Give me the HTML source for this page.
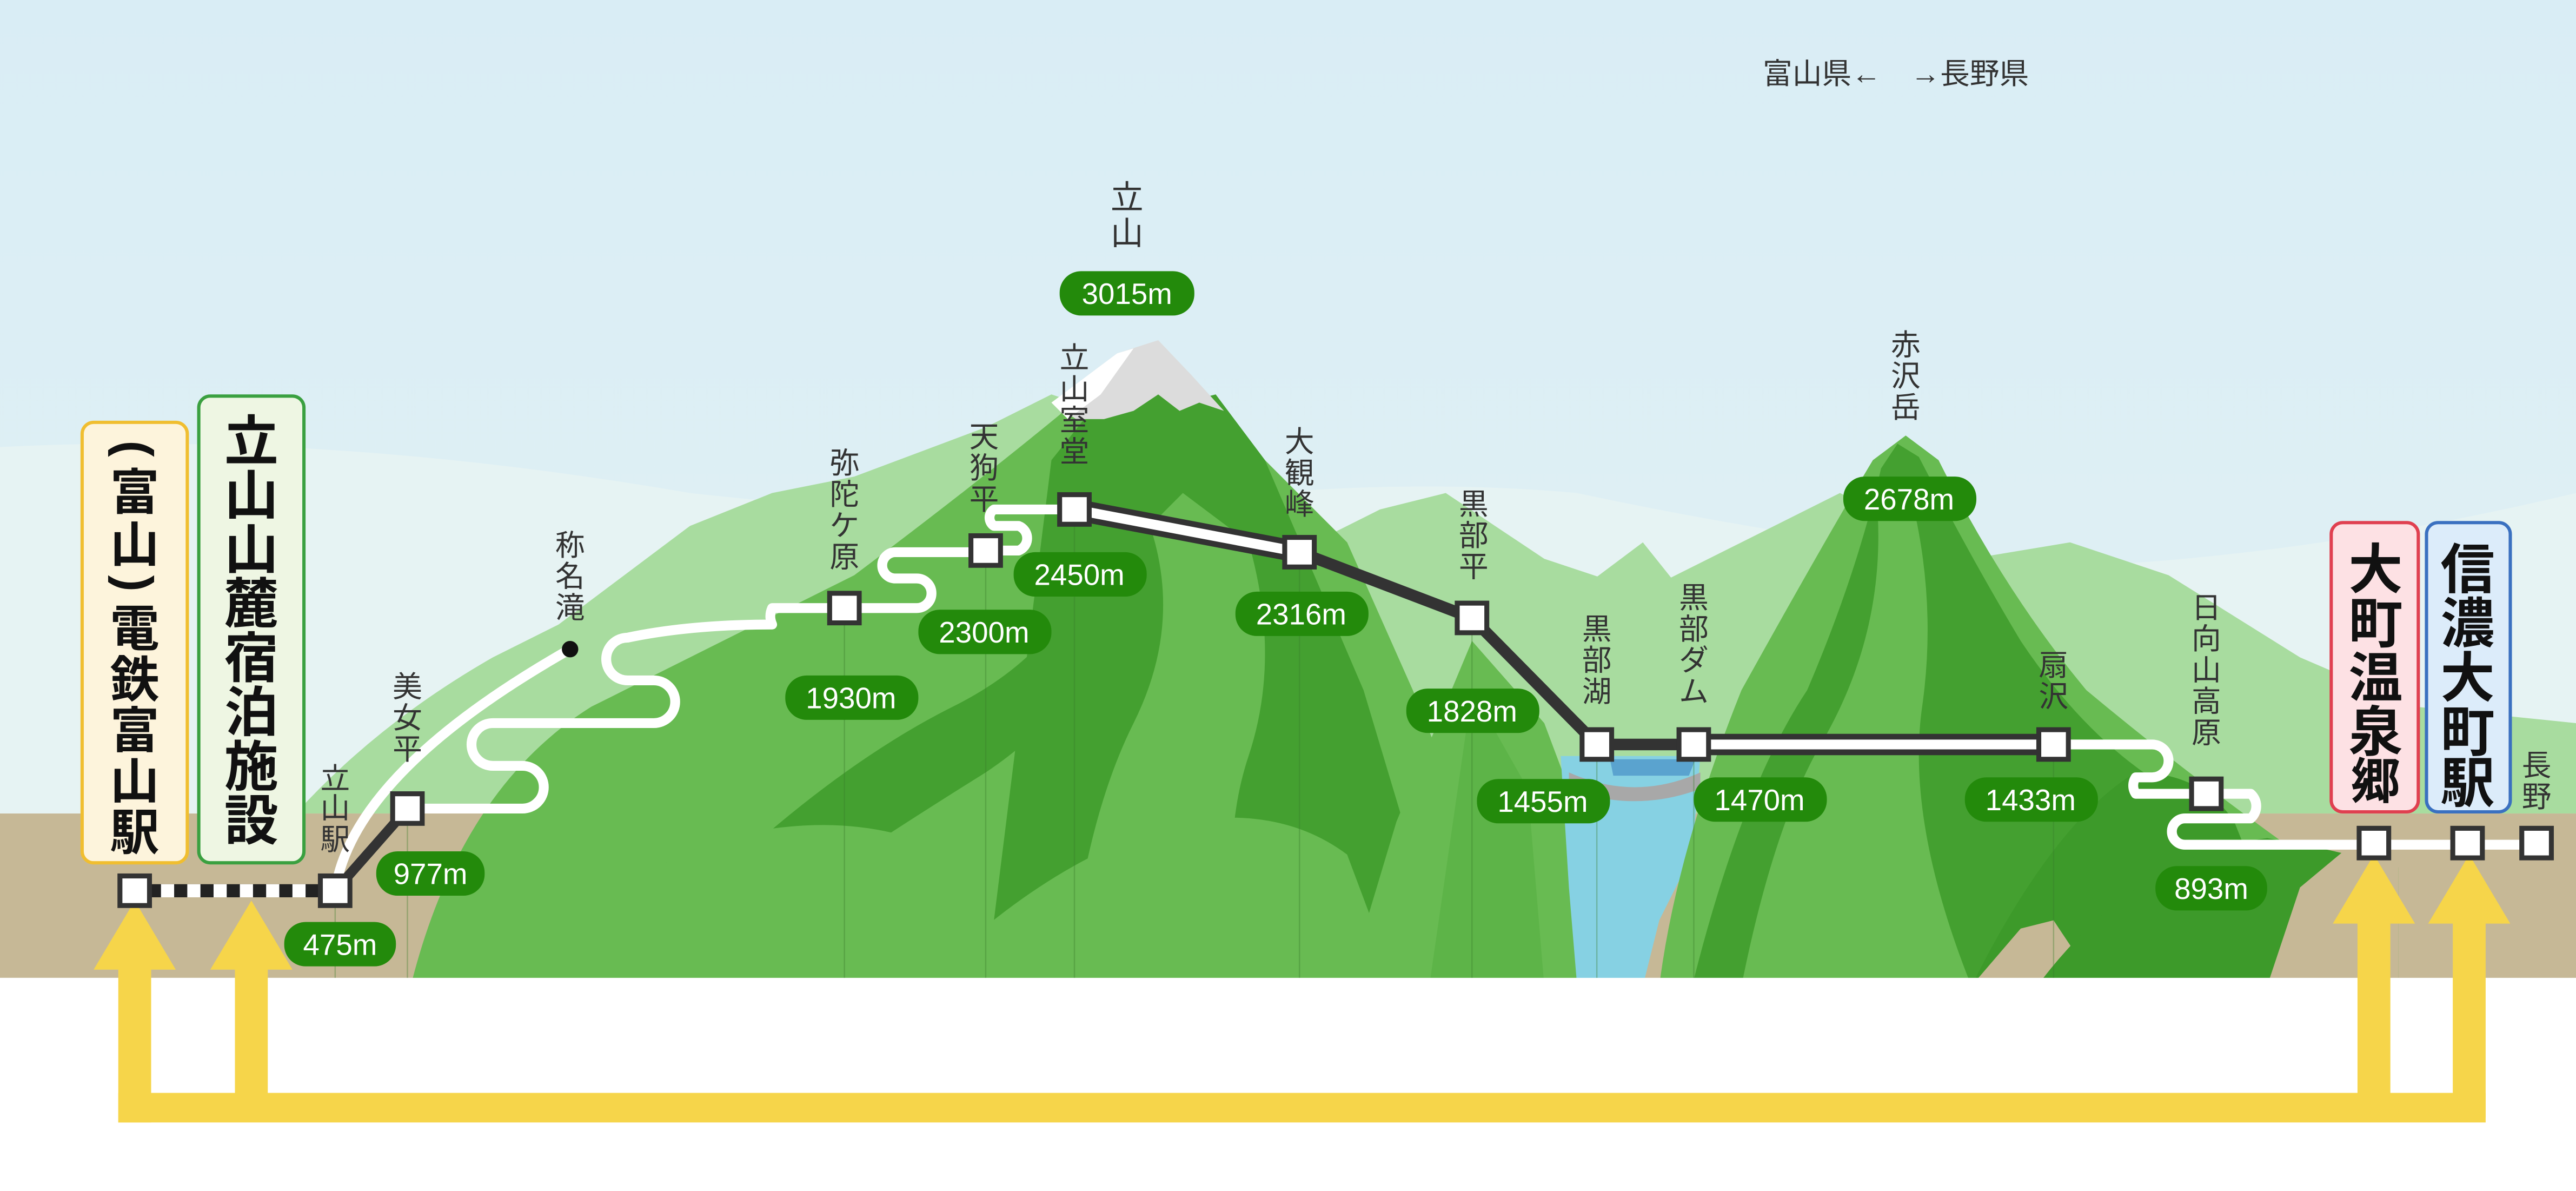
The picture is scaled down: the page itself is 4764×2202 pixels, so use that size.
<!DOCTYPE html>
<html><head><meta charset="utf-8">
<style>
html,body{margin:0;padding:0;background:#fff;}
svg{display:block;}
text{font-family:"Liberation Sans","Noto Sans CJK JP",sans-serif;}
.l{font-size:18px;fill:#333;text-anchor:middle;}
.p{font-size:18px;fill:#fff;text-anchor:middle;}
.b{font-size:33px;font-weight:bold;fill:#111;text-anchor:middle;}
</style></head>
<body>
<svg width="4764" height="2202" viewBox="0 0 1568 724.7" preserveAspectRatio="none" xmlns="http://www.w3.org/2000/svg">
<defs>
<linearGradient id="sky" x1="0" y1="0" x2="0" y2="1">
<stop offset="0" stop-color="#d9edf5"/><stop offset="1" stop-color="#e2f1f4"/>
</linearGradient>
</defs>
<rect x="0" y="0" width="1568" height="600" fill="url(#sky)"/>
<path d="M0 272 Q200 262 420 300 Q600 320 720 305 Q850 290 960 300 Q1100 330 1250 345 Q1400 340 1568 300 L1568 600 L0 600Z" fill="#e6f3f3"/>
<rect x="0" y="495" width="1568" height="100" fill="#c6b896"/>
<path d="M180 495 Q230 440 300 400 L340 380 L380 350 L420 320 L470 300 L520 290 L560 275 L600 260 L640 240 L700 260 L760 300 L800 330 L840 310 L880 300 L940 340 L1000 360 L1060 330 L1120 300 L1200 340 L1260 330 L1320 350 L1400 400 L1470 430 L1568 440 L1568 495 L180 495Z" fill="#a8dc9f"/>
<path d="M850 420 L905 318 L960 360 L1000 330 L1040 380 L1000 470 L880 470Z" fill="#a8dc9f"/>
<path d="M250 600 Q280 480 360 430 Q440 390 520 350 Q600 290 660 240 L700 220 L760 270 L820 330 L860 420 L900 520 L900 600Z" fill="#68bb52"/>
<path d="M600 600 L640 280 L672 240 L700 232 L720 245 L740 240 L770 280 L800 350 L830 420 L860 520 L880 600Z" fill="#44a030"/>
<path d="M650 600 Q660 500 690 440 Q720 380 700 320 L720 300 L760 330 Q780 400 760 460 Q740 520 760 600Z" fill="#68bb52"/>
<path d="M640 245 L680 215 L705 207 L725 228 L745 250 L730 245 L718 250 L705 240 L690 250 L672 255 L655 255Z" fill="#dcdcdc"/>
<path d="M640 245 L680 215 L690 212 L670 240 L650 255Z" fill="#ffffff"/>
<path d="M410 560 Q500 470 580 430 Q640 400 660 350 L690 360 Q660 430 600 470 Q520 520 470 555Z" fill="#44a030"/>
<path d="M560 600 Q640 520 720 500 Q780 490 820 520 L850 600Z" fill="#68bb52"/>
<path d="M300 600 Q360 540 440 510 Q520 490 580 520 L620 600Z" fill="#68bb52"/>
<path d="M820 600 L850 500 L896 390 L940 440 L970 520 L980 600Z" fill="#68bb52"/>
<path d="M870 600 L896 420 L930 480 L940 600Z" fill="#5db448"/>
<path d="M950 460 L1035 460 L1030 520 L1010 560 L1000 600 L960 600 L955 540Z" fill="#86d1e3"/>
<path d="M980 462 L1032 462 L1028 472 L982 472Z" fill="#5aa3cf"/>
<path d="M955 470 Q995 488 1035 470 L1035 480 Q995 495 955 480Z" fill="#a8a8a8"/>
<path d="M1010 600 Q1020 520 1060 420 Q1110 330 1140 280 L1160 265 L1180 280 Q1220 360 1270 420 Q1330 470 1400 520 L1440 600Z" fill="#68bb52"/>
<path d="M1030 600 Q1060 480 1100 420 Q1130 350 1145 285 L1155 270 L1168 278 Q1200 340 1230 390 Q1270 450 1320 480 Q1370 520 1400 600Z" fill="#44a030"/>
<path d="M1060 600 Q1080 500 1110 450 Q1150 380 1142 300 L1160 290 Q1180 360 1170 430 Q1160 500 1200 600Z" fill="#68bb52"/>
<path d="M1200 600 Q1250 500 1300 470 Q1340 470 1360 500 L1400 600Z" fill="#3d9a2a"/>
<path d="M1200 600 L1230 565 L1250 560 L1270 590 L1275 600Z" fill="#c6b896"/>
<path d="M1240 600 Q1300 520 1380 510 Q1440 520 1500 540 L1568 560 L1568 600Z" fill="#3d9a2a"/>
<path d="M1380 600 L1400 540 L1430 515 L1460 520 L1460 600Z" fill="#c6b896"/>
<path d="M1460 600 L1460 520 Q1500 505 1568 500 L1568 600Z" fill="#c6b896"/>
<rect x="0" y="595" width="1568" height="130" fill="#ffffff"/>
<g stroke="#3a7a2a" stroke-opacity="0.35" stroke-width="0.8">
<line x1="204" y1="550" x2="204" y2="595"/><line x1="248" y1="500" x2="248" y2="595"/>
<line x1="514" y1="378" x2="514" y2="595"/><line x1="600" y1="343" x2="600" y2="595"/>
<line x1="654" y1="318" x2="654" y2="595"/><line x1="791" y1="344" x2="791" y2="595"/>
<line x1="896" y1="384" x2="896" y2="595"/><line x1="972" y1="461" x2="972" y2="595"/>
<line x1="1031" y1="461" x2="1031" y2="595"/><line x1="1250" y1="461" x2="1250" y2="595"/>
</g>
<g fill="#f6d54a">
<rect x="72" y="665" width="1441" height="18"/>
<rect x="72" y="588" width="20" height="95"/>
<polygon points="57,590 107,590 82,548"/>
<rect x="143" y="588" width="20" height="85"/>
<polygon points="128,590 178,590 153,548"/>
<rect x="1435" y="560" width="20" height="115"/>
<polygon points="1420,562 1470,562 1445,520"/>
<rect x="1493" y="560" width="20" height="120"/>
<polygon points="1478,562 1528,562 1503,520"/>
</g>
<g fill="none" stroke-linejoin="round" stroke-linecap="round">
<path d="M204 542 Q215 470 347 395" stroke="#fff" stroke-width="6"/>
<path d="M248 492 H318 A13 13 0 0 0 318 466 H300 A13 13 0 0 1 300 440 H398 A13 13 0 0 0 398 414 H382 A13 13 0 0 1 382 388 Q420 380 470 380 A12 12 0 0 1 470 370 H514" stroke="#fff" stroke-width="6"/>
<path d="M514 370 H558 A9 9 0 0 0 558 352 H545 A8 8 0 0 1 545 336 H600" stroke="#fff" stroke-width="6"/>
<path d="M600 335 H620 A8 8 0 0 0 620 320 H605 A6 6 0 0 1 605 310 H654" stroke="#fff" stroke-width="6"/>
<path d="M1250 453 H1310 A10 10 0 0 1 1310 473 H1300 A9 9 0 0 0 1300 483 H1370 A10 10 0 0 1 1370 498 H1330 A8 8 0 0 0 1330 514 H1544" stroke="#fff" stroke-width="6"/>
<path d="M82 542 H204" stroke="#222" stroke-width="8"/>
<path d="M82 542 H204" stroke="#fff" stroke-width="8" stroke-dasharray="8 8" stroke-linecap="butt"/>
<path d="M204 542 L248 492" stroke="#333" stroke-width="6"/>
<path d="M654 310 L791 336" stroke="#333" stroke-width="13"/>
<path d="M654 310 L791 336" stroke="#fff" stroke-width="6"/>
<path d="M791 336 L896 376 L972 453 L1031 453" stroke="#333" stroke-width="7"/>
<path d="M1031 453 H1250" stroke="#333" stroke-width="13"/>
<path d="M1031 453 H1250" stroke="#fff" stroke-width="6"/>
</g>
<g fill="#fff" stroke="#333" stroke-width="3">
<rect x="73" y="533" width="18" height="18"/><rect x="195" y="533" width="18" height="18"/>
<rect x="239" y="483" width="18" height="18"/><rect x="505" y="361" width="18" height="18"/>
<rect x="591" y="326" width="18" height="18"/><rect x="645" y="301" width="18" height="18"/>
<rect x="782" y="327" width="18" height="18"/><rect x="887" y="367" width="18" height="18"/>
<rect x="963" y="444" width="18" height="18"/><rect x="1022" y="444" width="18" height="18"/>
<rect x="1241" y="444" width="18" height="18"/><rect x="1334" y="474" width="18" height="18"/>
<rect x="1436" y="504" width="18" height="18"/><rect x="1493" y="504" width="18" height="18"/>
<rect x="1535" y="504" width="18" height="18"/>
</g>
<circle cx="347" cy="395" r="5" fill="#111"/>
<rect x="50" y="257" width="64" height="268" rx="7" fill="#fdf4dc" stroke="#f0be30" stroke-width="2"/>
<rect x="121" y="241" width="64" height="284" rx="7" fill="#eef6e3" stroke="#3aa040" stroke-width="2"/>
<rect x="1419" y="318" width="53" height="176" rx="7" fill="#fde1e4" stroke="#e04050" stroke-width="2"/>
<rect x="1477" y="318" width="51" height="176" rx="7" fill="#dcecfa" stroke="#3a70c0" stroke-width="2"/>
<g class="b" style="font-size:30px">
<text x="82" y="283" transform="rotate(90 82 273)">(</text>
<text x="82" y="310">富</text><text x="82" y="342">山</text>
<text x="82" y="365" transform="rotate(90 82 355)">)</text>
<text x="82" y="393">電</text><text x="82" y="424">鉄</text><text x="82" y="455">富</text><text x="82" y="486">山</text><text x="82" y="517">駅</text>
</g>
<g class="b">
<text x="153" y="280">立</text><text x="153" y="313">山</text><text x="153" y="346">山</text><text x="153" y="379">麓</text><text x="153" y="412">宿</text><text x="153" y="445">泊</text><text x="153" y="478">施</text><text x="153" y="511">設</text>
<text x="1446" y="358">大</text><text x="1446" y="391">町</text><text x="1446" y="424">温</text><text x="1446" y="457">泉</text>
<text x="1502" y="358">信</text><text x="1502" y="391">濃</text><text x="1502" y="424">大</text><text x="1502" y="457">町</text><text x="1502" y="488">駅</text>
</g>
<g class="b" style="font-size:30px"><text x="1446" y="486">郷</text></g>
<g class="l">
<text x="204" y="480">立</text><text x="204" y="498">山</text><text x="204" y="517">駅</text>
<text x="248" y="424">美</text><text x="248" y="443">女</text><text x="248" y="462">平</text>
<text x="347" y="338">称</text><text x="347" y="357">名</text><text x="347" y="376">滝</text>
<text x="514" y="288">弥</text><text x="514" y="307">陀</text><text x="514" y="326">ケ</text><text x="514" y="345">原</text>
<text x="599" y="272">天</text><text x="599" y="291">狗</text><text x="599" y="310">平</text>
<text x="654" y="224">立</text><text x="654" y="243">山</text><text x="654" y="262">室</text><text x="654" y="281">堂</text>
<text x="791" y="275">大</text><text x="791" y="294">観</text><text x="791" y="313">峰</text>
<text x="897" y="313">黒</text><text x="897" y="332">部</text><text x="897" y="351">平</text>
<text x="972" y="389">黒</text><text x="972" y="408">部</text><text x="972" y="427">湖</text>
<text x="1031" y="370">黒</text><text x="1031" y="389">部</text><text x="1031" y="408">ダ</text><text x="1031" y="427">ム</text>
<text x="1160" y="216">赤</text><text x="1160" y="235">沢</text><text x="1160" y="254">岳</text>
<text x="1250" y="411">扇</text><text x="1250" y="430">沢</text>
<text x="1343" y="376">日</text><text x="1343" y="395">向</text><text x="1343" y="414">山</text><text x="1343" y="433">高</text><text x="1343" y="452">原</text>
<text x="1544" y="472">長</text><text x="1544" y="491">野</text>
</g>
<g class="l" style="font-size:20px">
<text x="686" y="127">立</text><text x="686" y="149">山</text>
</g>
<text x="1154" y="51" style="font-size:18px;fill:#333;text-anchor:middle">富山県←　→長野県</text>
<g fill="#238a0b">
<rect x="645" y="165" width="82" height="27" rx="13"/>
<rect x="617" y="336" width="81" height="27" rx="13"/>
<rect x="559" y="371" width="81" height="27" rx="13"/>
<rect x="478" y="411" width="81" height="27" rx="13"/>
<rect x="229" y="518" width="66" height="27" rx="13"/>
<rect x="173" y="561" width="68" height="27" rx="13"/>
<rect x="752" y="360" width="81" height="27" rx="13"/>
<rect x="856" y="419" width="81" height="27" rx="13"/>
<rect x="899" y="474" width="81" height="27" rx="13"/>
<rect x="1031" y="473" width="81" height="27" rx="13"/>
<rect x="1122" y="290" width="81" height="27" rx="13"/>
<rect x="1196" y="473" width="81" height="27" rx="13"/>
<rect x="1312" y="527" width="68" height="27" rx="13"/>
</g>
<g class="p">
<text x="686" y="185">3015m</text>
<text x="657" y="356">2450m</text>
<text x="599" y="391">2300m</text>
<text x="518" y="431">1930m</text>
<text x="262" y="538">977m</text>
<text x="207" y="581">475m</text>
<text x="792" y="380">2316m</text>
<text x="896" y="439">1828m</text>
<text x="939" y="494">1455m</text>
<text x="1071" y="493">1470m</text>
<text x="1162" y="310">2678m</text>
<text x="1236" y="493">1433m</text>
<text x="1346" y="547">893m</text>
</g>
</svg>
</body></html>
